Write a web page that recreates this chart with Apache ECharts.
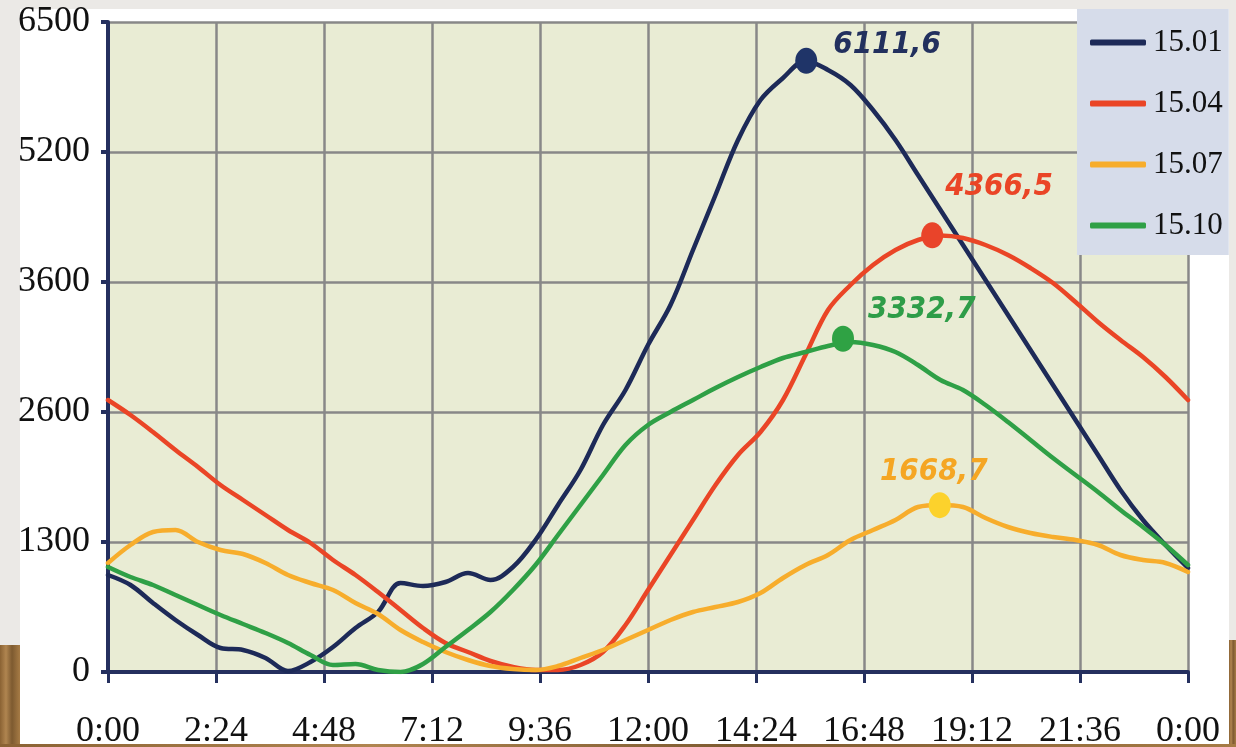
<!DOCTYPE html>
<html>
<head>
<meta charset="utf-8">
<script src="https://cdn.jsdelivr.net/npm/echarts@6/dist/echarts.min.js"></script>
<style>
  html, body { margin: 0; padding: 0; }
  body { width: 1236px; height: 747px; position: relative; overflow: hidden; background: #ebe9e6; }
  .wood { position: absolute; background: linear-gradient(90deg, #8a6233 0%, #b08550 30%, #7d5a30 60%, #a67b45 100%); }
  #sheet { position: absolute; left: 20px; top: 9px; width: 1209px; height: 735px; background: #ffffff; }
  #chart { position: absolute; left: 0; top: 0; width: 1236px; height: 747px; }
</style>
</head>
<body>
<div class="wood" style="left:0;top:645px;width:20px;height:102px;"></div>
<div class="wood" style="left:1229px;top:640px;width:7px;height:107px;"></div>
<div class="wood" style="left:0;top:744px;width:1236px;height:3px;"></div>
<div id="sheet"></div>
<div id="chart"></div>
<script>
// time of day in minutes (every 30 min, 0:00 .. 24:00)
const times = [0,30,60,90,120,150,180,210,240,270,300,330,360,390,420,450,480,510,540,570,600,630,660,690,720,750,780,810,840,870,900,930,960,990,1020,1050,1080,1110,1140,1170,1200,1230,1260,1290,1320,1350,1380,1410,1440];

const seriesNames = ['15.01', '15.04', '15.07', '15.10'];

const values1501 = [970,870,690,520,370,240,220,140,10,100,250,440,600,890,860,900,990,920,1050,1320,1670,2020,2470,2820,3270,3670,4220,4770,5320,5720,5940,6110,6020,5870,5620,5320,4970,4620,4270,3920,3570,3220,2870,2520,2170,1820,1520,1270,1040];
const values1504 = [2720,2570,2400,2220,2050,1870,1720,1570,1420,1290,1120,970,800,620,440,290,200,110,50,20,20,70,200,470,820,1170,1520,1870,2170,2400,2720,3170,3620,3870,4070,4220,4320,4365,4340,4270,4170,4040,3890,3700,3500,3320,3150,2950,2720];
const values1507 = [1090,1270,1400,1420,1300,1220,1180,1090,970,890,820,690,580,420,300,200,120,60,30,20,60,140,220,320,420,520,600,650,700,790,940,1070,1170,1320,1420,1520,1650,1670,1650,1540,1450,1390,1350,1320,1270,1170,1120,1090,1000];
const values1510 = [1050,950,870,770,670,570,480,390,290,170,70,80,20,0,80,250,420,600,820,1070,1370,1670,1970,2270,2470,2600,2720,2840,2950,3050,3140,3200,3260,3300,3270,3200,3070,2920,2820,2670,2500,2320,2140,1970,1800,1620,1450,1270,1070];

// peak markers, in series order (15.01, 15.04, 15.07, 15.10)
const peakTimes = [931, 1099, 1109, 980];
const peakValues = [6111.6, 4366.5, 1668.7, 3332.7];
const peakLabels = ['6111,6', '4366,5', '1668,7', '3332,7'];

// y tick labels as printed on the original
const yTickLabels = ['0', '1300', '2600', '3600', '5200', '6500'];

const lineColors = ['#1d2a58', '#ea4526', '#f7ad2c', '#2fa046'];
const markerColors = ['#1f3468', '#e9442a', '#fcd22c', '#2fa244'];
const labelColors = ['#22305e', '#ea4526', '#f5a623', '#2e9d48'];
const labelPositions = ['right', 'right', 'top', 'right'];
const labelOffsets = [[11, -16], [-3, -48], [-6, 0], [9, -29]];

const allValues = [values1501, values1504, values1507, values1510];

function fmtTime(m) {
  const mm = m % 1440;
  const h = Math.floor(mm / 60);
  const mi = Math.round(mm % 60);
  return h + ':' + (mi < 10 ? '0' : '') + mi;
}

const series = [];
allValues.forEach((vals, i) => {
  series.push({
    name: seriesNames[i],
    type: 'line',
    smooth: 0.35,
    symbol: 'none',
    data: times.map((t, k) => [t, vals[k]]),
    lineStyle: { color: lineColors[i], width: 4.5, cap: 'round', join: 'round' },
    itemStyle: { color: lineColors[i] },
    z: 3
  });
});
peakValues.forEach((v, i) => {
  series.push({
    name: 'peak' + i,
    type: 'scatter',
    symbol: 'circle',
    symbolSize: [22, 26],
    data: [[peakTimes[i], v]],
    itemStyle: { color: markerColors[i], opacity: 1 },
    label: {
      show: true,
      formatter: peakLabels[i],
      position: labelPositions[i],
      offset: labelOffsets[i],
      color: labelColors[i],
      fontSize: 31,
      fontWeight: 'bold',
      fontStyle: 'italic',
      fontFamily: "'Liberation Sans Narrow', 'DejaVu Sans Condensed', sans-serif"
    },
    z: 5
  });
});

const chart = echarts.init(document.getElementById('chart'), null, { renderer: 'canvas' });
chart.setOption({
  backgroundColor: 'transparent',
  animation: false,
  grid: {
    left: 108, right: 48, top: 22, bottom: 75,
    outerBoundsMode: 'none', containLabel: false,
    show: true, backgroundColor: '#e9ecd4', borderWidth: 0
  },
  legend: {
    orient: 'vertical',
    left: 1077, top: 9,
    padding: [18, 6, 14, 13],
    itemGap: 30,
    itemWidth: 56, itemHeight: 6,
    backgroundColor: '#d6dcea',
    data: seriesNames.map(n => ({ name: n, icon: 'roundRect' })),
    textStyle: { fontFamily: "'Liberation Serif', serif", fontSize: 31, color: '#111111', padding: [0, 0, 0, 2] }
  },
  xAxis: {
    type: 'value',
    min: 0, max: 1440, interval: 144,
    axisLine: { show: true, lineStyle: { color: '#25305f', width: 4 } },
    axisTick: { show: true, length: 11, lineStyle: { color: '#25305f', width: 3 } },
    splitLine: { show: true, lineStyle: { color: '#888888', width: 2.5 } },
    axisLabel: {
      formatter: v => fmtTime(v),
      fontFamily: "'Liberation Serif', serif", fontSize: 36, color: '#111111',
      margin: 42, showMinLabel: true, showMaxLabel: true
    }
  },
  yAxis: {
    type: 'value',
    min: 0, max: 6500, interval: 1300,
    axisLine: { show: true, lineStyle: { color: '#25305f', width: 4 } },
    axisTick: { show: true, length: 7, lineStyle: { color: '#25305f', width: 4 } },
    splitLine: { show: true, lineStyle: { color: '#888888', width: 2.5 } },
    axisLabel: {
      formatter: v => yTickLabels[Math.round(v / 1300)],
      fontFamily: "'Liberation Serif', serif", fontSize: 36, color: '#111111',
      margin: 18
    }
  },
  series: series
});
</script>
</body>
</html>
